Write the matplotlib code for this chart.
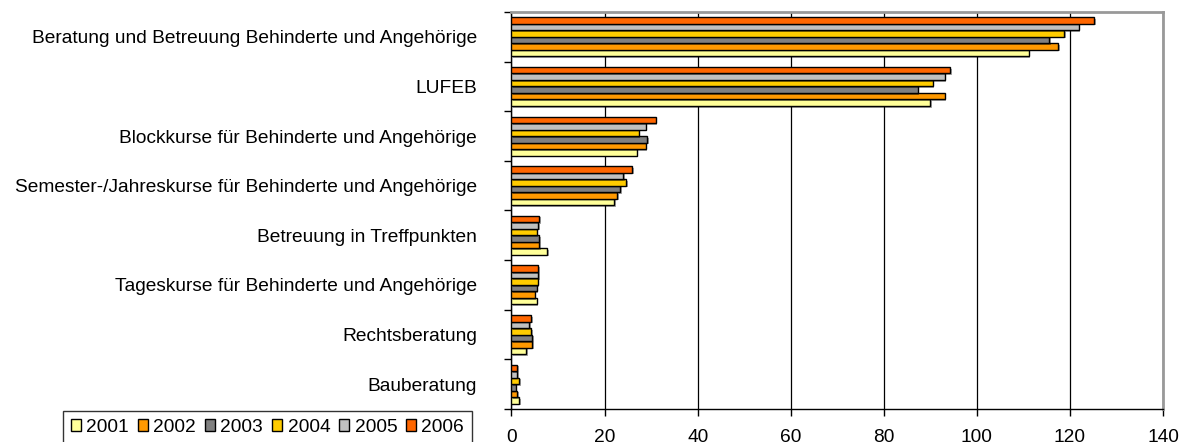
import numpy as np
import matplotlib.pyplot as plt
import matplotlib.patheffects as pe

plt.rcParams['font.family'] = ['Liberation Sans', 'DejaVu Sans']

# categories, top to bottom
categories = [
    "Beratung und Betreuung Behinderte und Angehörige",
    "LUFEB",
    "Blockkurse für Behinderte und Angehörige",
    "Semester-/Jahreskurse für Behinderte und Angehörige",
    "Betreuung in Treffpunkten",
    "Tageskurse für Behinderte und Angehörige",
    "Rechtsberatung",
    "Bauberatung",
]

years = ["2001", "2002", "2003", "2004", "2005", "2006"]

v2001 = [111.1, 89.9, 26.9, 22.1, 7.7, 5.4, 3.2, 1.6]
v2002 = [117.4, 93.1, 28.8, 22.7, 6.0, 5.0, 4.5, 1.25]
v2003 = [115.5, 87.3, 29.1, 23.4, 6.0, 5.4, 4.5, 0.9]
v2004 = [118.7, 90.5, 27.3, 24.7, 5.4, 5.6, 4.2, 1.6]
v2005 = [121.9, 93.1, 28.8, 24.0, 5.7, 5.7, 3.8, 1.25]
v2006 = [125.2, 94.3, 31.0, 26.0, 6.0, 5.7, 4.2, 1.25]

series = [v2001, v2002, v2003, v2004, v2005, v2006]
colors = ["#FFFF99", "#FF9900", "#808080", "#FFCC00", "#C0C0C0", "#FF6600"]

fs = 13.8

fig = plt.figure(figsize=(11.81, 4.42), dpi=100)
ax = fig.add_axes([0.4331, 0.0747, 0.5517, 0.8982])

centers = np.arange(len(categories)) + 0.5
h = 0.131
shadow = [pe.SimplePatchShadow(offset=(1.2, -1.2), shadow_rgbFace="black", alpha=0.35), pe.Normal()]
for j, (vals, c, yr) in enumerate(zip(series, colors, years)):
    bars = ax.barh(centers + (2.5 - j) * h, vals, height=h, color=c,
                   edgecolor="black", linewidth=1.0, label=yr, zorder=3)
    for b in bars:
        b.set_path_effects(shadow)

ax.set_ylim(len(categories), 0)
ax.set_xlim(0, 140)
ax.set_xticks(np.arange(0, 141, 20))
ax.set_yticks(centers)
ax.set_yticklabels(categories)
ax.set_yticks(np.arange(0, len(categories) + 1), minor=True)
ax.tick_params(axis="y", which="major", length=0, pad=25, labelsize=fs)
ax.tick_params(axis="y", which="minor", length=5, width=1, direction="out")
ax.tick_params(axis="x", length=5, width=1, direction="out", pad=9.5, labelsize=fs)

ax.grid(axis="x", color="black", linewidth=0.9, zorder=0)
ax.set_axisbelow(True)

for s in ["top", "right"]:
    ax.spines[s].set_color("#999999")
    ax.spines[s].set_linewidth(2)
for s in ["left", "bottom"]:
    ax.spines[s].set_color("black")
    ax.spines[s].set_linewidth(1)

leg = fig.legend(loc="upper left", bbox_to_anchor=(63 / 1181, 1 - 411 / 442),
                 ncol=6, fontsize=fs, frameon=True, fancybox=False,
                 handlelength=0.55, handleheight=0.55, handletextpad=0.27,
                 columnspacing=0.45, borderpad=0.4, borderaxespad=0)
leg.get_frame().set_edgecolor("black")
leg.get_frame().set_linewidth(1)
for p in leg.get_patches():
    p.set_path_effects([])

fig.savefig("out.png", dpi=100)
